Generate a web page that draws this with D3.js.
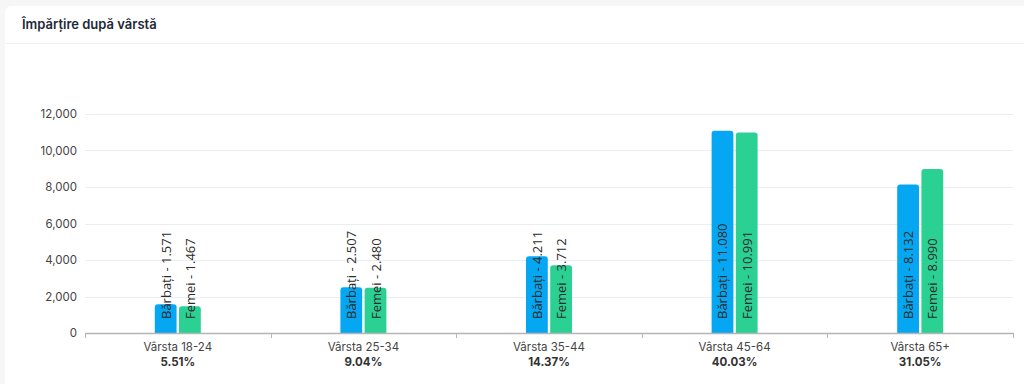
<!DOCTYPE html>
<html>
<head>
<meta charset="utf-8">
<script src="https://cdn.jsdelivr.net/npm/d3@7"></script>
<style>
  html, body { margin: 0; padding: 0; background: #f6f6f6; }
  body { width: 1024px; height: 384px; overflow: hidden; font-family: Inter, "Noto Sans", sans-serif; }
  #card { position: absolute; left: 5px; top: 6px; width: 1030px; height: 390px; background: #fff; border-radius: 6px; }
</style>
</head>
<body>
<div id="card"></div>
<script>
var title = "Împărțire după vârstă";
var categories = ["Vârsta 18-24", "Vârsta 25-34", "Vârsta 35-44", "Vârsta 45-64", "Vârsta 65+"];
var percents = ["5.51%", "9.04%", "14.37%", "40.03%", "31.05%"];
var seriesNames = ["Bărbați", "Femei"];
var barbati = [1571, 2507, 4211, 11080, 8132];
var femei = [1467, 2480, 3712, 10991, 8990];
var barLabels = [
    ["1.571", "2.507", "4.211", "11.080", "8.132"],
    ["1.467", "2.480", "3.712", "10.991", "8.990"]
];
var yTicks = [0, 2000, 4000, 6000, 8000, 10000, 12000];
var colors = ["#05a7f3", "#2bd193"];

var margin = { left: 85, right: 11, top: 114, bottom: 51 };
var width = 1024 - margin.left - margin.right,
    height = 384 - margin.top - margin.bottom;

var svg = d3.select("body")
    .append("svg")
    .attr("width", 1024)
    .attr("height", 384)
    .style("position", "absolute")
    .style("left", 0)
    .style("top", 0);

// header
svg.append("text")
    .attr("x", 22)
    .attr("y", 29)
    .attr("font-size", "13px")
    .attr("font-weight", 600)
    .attr("fill", "#1d2939")
    .text(title);
svg.append("line")
    .attr("x1", 5).attr("x2", 1024)
    .attr("y1", 43.5).attr("y2", 43.5)
    .attr("stroke", "#f0f0f3");

var g = svg.append("g")
    .attr("transform", "translate(" + margin.left + ", " + margin.top + ")");

var x = d3.scaleBand()
    .domain(categories)
    .range([0, width]);

var x1 = d3.scaleBand()
    .domain(seriesNames)
    .range([0, 46])
    .paddingInner(0.1);

var y = d3.scaleLinear()
    .domain([0, 12000])
    .range([height, 0]);

// grid
g.selectAll(".grid")
    .data(yTicks.slice(1))
    .enter()
    .append("line")
    .attr("class", "grid")
    .attr("x1", 0).attr("x2", width)
    .attr("y1", function(d){ return Math.round(y(d)) + 0.5; })
    .attr("y2", function(d){ return Math.round(y(d)) + 0.5; })
    .attr("stroke", "#e9edf5");

// y axis labels
var yAxisCall = d3.axisLeft(y)
    .tickValues(yTicks)
    .tickSize(0)
    .tickPadding(8)
    .tickFormat(d3.format(","));
var yAx = g.append("g").call(yAxisCall);
yAx.select(".domain").remove();
yAx.selectAll("text")
    .attr("fill", "#444")
    .style("font-size", "11.5px")
    .style("font-family", "Inter, sans-serif");

// bars
var data = categories.map(function(c, i){
    return { cat: c, values: [barbati[i], femei[i]] };
});

var groups = g.selectAll(".grp")
    .data(data)
    .enter()
    .append("g")
    .attr("class", "grp")
    .attr("transform", function(d){
        return "translate(" + (x(d.cat) + x.bandwidth() / 2 - 23) + ",0)";
    });

function topRounded(xp, yp, w, h, r) {
    return "M" + xp + "," + (yp + h) +
        "V" + (yp + r) +
        "Q" + xp + "," + yp + " " + (xp + r) + "," + yp +
        "H" + (xp + w - r) +
        "Q" + (xp + w) + "," + yp + " " + (xp + w) + "," + (yp + r) +
        "V" + (yp + h) + "Z";
}

groups.selectAll("path")
    .data(function(d, i){
        return d.values.map(function(v, s){ return { name: seriesNames[s], v: v, s: s, i: i }; });
    })
    .enter()
    .append("path")
    .attr("d", function(d){
        return topRounded(x1(d.name), y(d.v), x1.bandwidth(), height - y(d.v), 3);
    })
    .attr("fill", function(d){ return colors[d.s]; });

groups.selectAll(".lbl")
    .data(function(d, i){
        return d.values.map(function(v, s){ return { name: seriesNames[s], s: s, i: i }; });
    })
    .enter()
    .append("text")
    .attr("class", "lbl")
    .attr("transform", function(d){
        return "translate(" + (x1(d.name) + x1.bandwidth() / 2 + 5) + "," + (height - 14) + ") rotate(-90)";
    })
    .attr("font-size", "13px")
    .attr("fill", "#2b2b2b")
    .style("font-family", "'Open Sans', sans-serif")
    .text(function(d){ return d.name + " - " + barLabels[d.s][d.i]; });

// x axis
var xAxisCall = d3.axisBottom(x).tickSize(0).tickFormat("");
var xAx = g.append("g")
    .attr("transform", "translate(0, " + height + ")")
    .call(xAxisCall);
xAx.select(".domain").attr("stroke", "#b5b5b8").attr("stroke-width", 1.5);

g.selectAll(".xtick")
    .data(d3.range(categories.length + 1))
    .enter()
    .append("line")
    .attr("class", "xtick")
    .attr("x1", function(d){ return Math.round(d * x.step()) + 0.5; })
    .attr("x2", function(d){ return Math.round(d * x.step()) + 0.5; })
    .attr("y1", height).attr("y2", height + 5)
    .attr("stroke", "#b5b5b8");

g.selectAll(".catlbl")
    .data(categories)
    .enter()
    .append("text")
    .attr("class", "catlbl")
    .attr("x", function(d){ return x(d) + x.bandwidth() / 2; })
    .attr("y", height + 18)
    .attr("text-anchor", "middle")
    .attr("font-size", "11.5px")
    .attr("fill", "#444")
    .style("font-family", "Inter, sans-serif")
    .text(function(d){ return d; });

g.selectAll(".pct")
    .data(percents)
    .enter()
    .append("text")
    .attr("class", "pct")
    .attr("x", function(d, i){ return x(categories[i]) + x.bandwidth() / 2; })
    .attr("y", height + 33)
    .attr("text-anchor", "middle")
    .attr("font-size", "11.5px")
    .attr("font-weight", 700)
    .attr("fill", "#333")
    .style("font-family", "Inter, sans-serif")
    .text(function(d){ return d; });
</script>
</body>
</html>
